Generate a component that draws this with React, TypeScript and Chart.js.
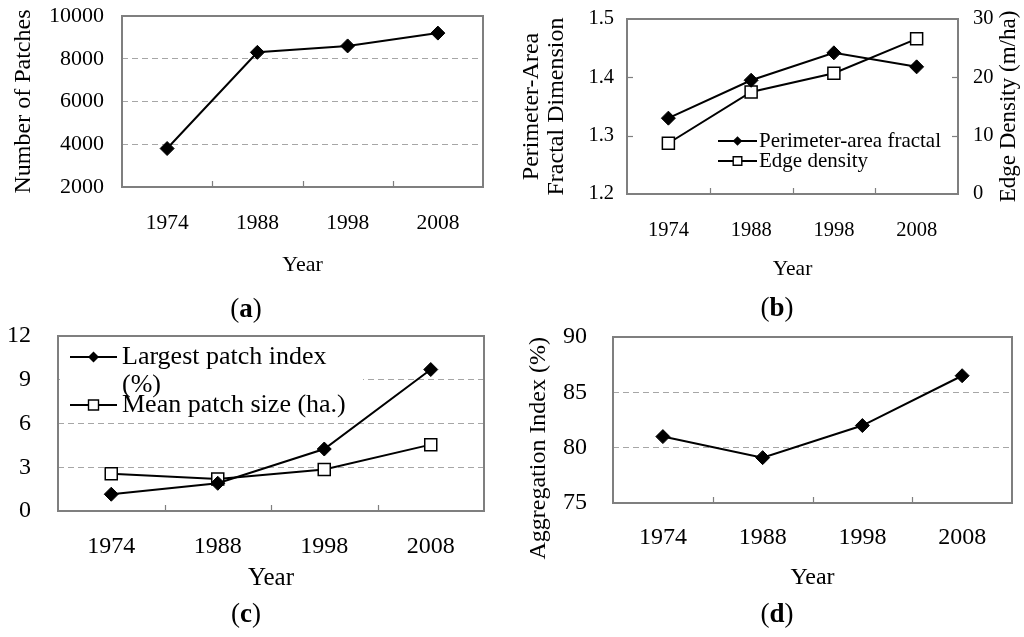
import React, { useEffect, useRef } from 'react';
import { Chart, registerables } from 'chart.js';

Chart.register(...registerables);

const FONT = '"Liberation Serif", "Times New Roman", Times, serif';

// ---------- data ----------
const years = ['1974', '1988', '1998', '2008'];

const numberOfPatches = [3800, 8300, 8600, 9200];
const patchTicks = [2000, 4000, 6000, 8000, 10000];

const fractalDimension = [1.33, 1.395, 1.442, 1.418];
const fractalTicks = [1.2, 1.3, 1.4, 1.5];
const edgeDensity = [8.7, 17.5, 20.7, 26.6];
const edgeTicks = [0, 10, 20, 30];

const largestPatchIndex = [1.15, 1.9, 4.25, 9.7];
const meanPatchSize = [2.55, 2.2, 2.85, 4.55];
const patchIndexTicks = [0, 3, 6, 9, 12];

const aggregationIndex = [81.0, 79.1, 82.0, 86.5];
const aggregationTicks = [75, 80, 85, 90];

const legendB = [['Perimeter-area fractal'], ['Edge density']];
const legendC = [['Largest patch index', '(%)'], ['Mean patch size (ha.)']];

// ---------- helpers ----------
function drawMarker(ctx: CanvasRenderingContext2D, style: string, x: number, y: number, r: number) {
  ctx.beginPath();
  if (style === 'rectRot') {
    ctx.moveTo(x, y - r);
    ctx.lineTo(x + r, y);
    ctx.lineTo(x, y + r);
    ctx.lineTo(x - r, y);
    ctx.closePath();
    ctx.fillStyle = '#000';
    ctx.fill();
  } else {
    ctx.rect(x - r, y - r, 2 * r, 2 * r);
    ctx.fillStyle = '#fff';
    ctx.fill();
    ctx.lineWidth = 1.4;
    ctx.strokeStyle = '#000';
    ctx.stroke();
  }
}

const panelDecor = {
  id: 'panelDecor',
  beforeDatasetsDraw(chart: any, _args: any, opts: any) {
    const { ctx, chartArea: a } = chart;
    ctx.save();
    const lg = opts.legend;
    if (lg && lg.bg) {
      ctx.fillStyle = '#fff';
      ctx.fillRect(lg.bg[0], lg.bg[1], lg.bg[2], lg.bg[3]);
    }
    ctx.strokeStyle = '#7f7f7f';
    ctx.lineWidth = 2;
    ctx.strokeRect(a.left, a.top, a.right - a.left, a.bottom - a.top);
    ctx.lineWidth = 1.2;
    const xs = chart.scales.x;
    const n = xs.ticks.length;
    for (let i = 0; i < n - 1; i++) {
      const px = Math.round((xs.getPixelForTick(i) + xs.getPixelForTick(i + 1)) / 2) + 0.5;
      ctx.beginPath();
      ctx.moveTo(px, a.bottom);
      ctx.lineTo(px, a.bottom - 6);
      ctx.stroke();
    }
    if (opts.yTicks) {
      Object.values(chart.scales).forEach((s: any) => {
        if (s.axis !== 'y') return;
        s.ticks.forEach((t: any, i: number) => {
          if (i === 0 || i === s.ticks.length - 1) return;
          const py = Math.round(s.getPixelForValue(t.value)) + 0.5;
          ctx.beginPath();
          if (s.position === 'left') {
            ctx.moveTo(a.left, py);
            ctx.lineTo(a.left + 6, py);
          } else {
            ctx.moveTo(a.right, py);
            ctx.lineTo(a.right - 6, py);
          }
          ctx.stroke();
        });
      });
    }
    // right-hand axis title, read bottom-to-top like the left one
    const rt = opts.rightTitle;
    if (rt) {
      const s = chart.scales[rt.scale];
      ctx.save();
      ctx.translate(rt.x, (s.top + s.bottom) / 2);
      ctx.rotate(-Math.PI / 2);
      ctx.font = `${rt.size}px ${FONT}`;
      ctx.fillStyle = '#000';
      ctx.textAlign = 'center';
      ctx.textBaseline = 'middle';
      ctx.fillText(rt.text, 0, 0);
      ctx.restore();
    }
    if (lg) {
      ctx.font = `${lg.size}px ${FONT}`;
      ctx.textBaseline = 'middle';
      ctx.textAlign = 'left';
      lg.labels.forEach((lines: string[], i: number) => {
        const ds = chart.data.datasets[i];
        const y = lg.lineYs[i];
        ctx.strokeStyle = '#000';
        ctx.lineWidth = 2;
        ctx.beginPath();
        ctx.moveTo(lg.x0, y);
        ctx.lineTo(lg.x1, y);
        ctx.stroke();
        drawMarker(ctx, ds.pointStyle, (lg.x0 + lg.x1) / 2, y, ds.pointStyle === 'rectRot' ? lg.r : lg.r - 0.5);
        ctx.fillStyle = '#000';
        lines.forEach((t, j) => ctx.fillText(t, lg.textX, lg.textYs[i][j]));
      });
    }
    ctx.restore();
  },
};

function xScale(fontSize: number, padding: number, titleSize: number, titleBottom: number, height: number) {
  return {
    type: 'category',
    offset: true,
    grid: { display: false, drawTicks: false },
    border: { display: false },
    ticks: {
      color: '#000',
      font: { family: FONT, size: fontSize },
      padding,
      maxRotation: 0,
      autoSkip: false,
    },
    title: {
      display: true,
      text: 'Year',
      color: '#000',
      font: { family: FONT, size: titleSize },
      padding: { top: 0, bottom: titleBottom },
    },
    afterFit: (s: any) => {
      s.height = height;
      s.paddingLeft = 0;
      s.paddingRight = 0;
      s.paddingTop = 0;
      s.paddingBottom = 0;
    },
  };
}

function yScale(o: {
  ticks: number[];
  size: number;
  padding: number;
  width: number;
  position?: string;
  grid?: boolean;
  title?: string | string[];
  titleSize?: number;
  titlePad?: number;
  titleLine?: number;
  align?: string;
  decimals?: number;
}) {
  const min = o.ticks[0];
  const max = o.ticks[o.ticks.length - 1];
  const step = o.ticks[1] - o.ticks[0];
  return {
    type: 'linear',
    position: o.position || 'left',
    min,
    max,
    grid: {
      display: o.grid !== false,
      drawTicks: false,
      lineWidth: 1,
      color: (c: any) =>
        c.tick && (Math.abs(c.tick.value - min) < 1e-9 || Math.abs(c.tick.value - max) < 1e-9)
          ? 'rgba(0,0,0,0)'
          : '#a6a6a6',
    },
    border: { display: false, dash: [6, 4] },
    ticks: {
      stepSize: step,
      color: '#000',
      font: { family: FONT, size: o.size },
      padding: o.padding,
      callback: (v: any) => (o.decimals ? Number(v).toFixed(o.decimals) : String(v)),
    },
    title: o.title
      ? {
          display: true,
          text: o.title,
          color: '#000',
          align: o.align || 'center',
          font: { family: FONT, size: o.titleSize || o.size, lineHeight: o.titleLine || 1.2 },
          padding: { top: o.titlePad || 0, bottom: 0 },
        }
      : { display: false },
    afterFit: (s: any) => {
      s.width = o.width;
      s.paddingLeft = 0;
      s.paddingRight = 0;
      s.paddingTop = 0;
      s.paddingBottom = 0;
    },
  };
}

function lineDs(label: string, data: number[], style: 'rectRot' | 'rect', yAxisID = 'y') {
  return {
    label,
    data,
    yAxisID,
    borderColor: '#000',
    borderWidth: 2,
    tension: 0,
    fill: false,
    pointStyle: style,
    pointRadius: style === 'rectRot' ? 7 : 8.5,
    pointBackgroundColor: style === 'rectRot' ? '#000' : '#fff',
    pointBorderColor: '#000',
    pointBorderWidth: style === 'rectRot' ? 1 : 1.5,
  };
}

function baseOptions(padding: any, scales: any, decor: any) {
  return {
    responsive: false,
    animation: false,
    events: [],
    layout: { padding },
    plugins: {
      legend: { display: false },
      tooltip: { enabled: false },
      title: { display: false },
      panelDecor: decor,
    },
    scales,
  };
}

const W = 512;
const H = 290;

function makeA(): any {
  return {
    type: 'line',
    data: { labels: years, datasets: [lineDs('Number of Patches', numberOfPatches, 'rectRot')] },
    options: baseOptions(
      { top: 16, right: 29, left: 0, bottom: 0 },
      {
        x: xScale(21.5, 23, 22, 11.8, H - 187),
        y: yScale({ ticks: patchTicks, size: 22, padding: 18, width: 122, title: 'Number of Patches', titleSize: 24, titlePad: 9.6 }),
      },
      {}
    ),
    plugins: [panelDecor],
  };
}

function makeB(): any {
  return {
    type: 'line',
    data: {
      labels: years,
      datasets: [
        lineDs(legendB[0].join(' '), fractalDimension, 'rectRot', 'y'),
        lineDs(legendB[1].join(' '), edgeDensity, 'rect', 'y1'),
      ],
    },
    options: baseOptions(
      { top: 19, right: 0, left: 0, bottom: 0 },
      {
        x: xScale(20.5, 24, 21.5, 7.4, H - 194),
        y: yScale({
          ticks: fractalTicks,
          size: 20.5,
          padding: 13,
          width: 115,
          grid: false,
          decimals: 1,
          title: ['Perimeter-Area', 'Fractal Dimension'],
          titleSize: 24,
          titleLine: 1.05,
          titlePad: 7.4,
        }),
        y1: yScale({
          ticks: edgeTicks,
          size: 20.5,
          padding: 15,
          width: 66,
          position: 'right',
          grid: false,
        }),
      },
      {
        yTicks: true,
        rightTitle: { scale: 'y1', text: 'Edge Density (m/ha)', x: 497, size: 23 },
        legend: {
          labels: legendB,
          size: 21,
          x0: 206,
          x1: 245,
          r: 4.8,
          textX: 247,
          lineYs: [141, 161],
          textYs: [[141], [161]],
        },
      }
    ),
    plugins: [panelDecor],
  };
}

function makeC(): any {
  return {
    type: 'line',
    data: {
      labels: years,
      datasets: [
        lineDs(legendC[0].join(' '), largestPatchIndex, 'rectRot'),
        lineDs(legendC[1].join(' '), meanPatchSize, 'rect'),
      ],
    },
    options: baseOptions(
      { top: 16, right: 28, left: 0, bottom: 0 },
      {
        x: xScale(24, 21.6, 25, 17, H - 191),
        y: yScale({ ticks: patchIndexTicks, size: 24, padding: 27, width: 58 }),
      },
      {
        legend: {
          labels: legendC,
          size: 26,
          bg: [60, 18, 303, 80],
          x0: 70,
          x1: 117,
          r: 5.5,
          textX: 122,
          lineYs: [37, 85],
          textYs: [[37, 65], [85]],
        },
      }
    ),
    plugins: [panelDecor],
  };
}

function makeD(): any {
  return {
    type: 'line',
    data: { labels: years, datasets: [lineDs('Aggregation Index (%)', aggregationIndex, 'rectRot')] },
    options: baseOptions(
      { top: 17, right: 12, left: 0, bottom: 0 },
      {
        x: xScale(24, 20.6, 24, 17.6, H - 183),
        y: yScale({
          ticks: aggregationTicks,
          size: 24,
          padding: 26,
          width: 101,
          title: 'Aggregation Index (%)',
          titleSize: 24,
          titlePad: 12.6,
          align: 'end',
        }),
      },
      {}
    ),
    plugins: [panelDecor],
  };
}

function Panel({ left, top, make }: { left: number; top: number; make: () => any }) {
  const ref = useRef<HTMLCanvasElement>(null);
  useEffect(() => {
    const chart = new Chart(ref.current as HTMLCanvasElement, make());
    return () => chart.destroy();
  }, []);
  return (
    <div style={{ position: 'absolute', left, top, width: W, height: H }}>
      <canvas ref={ref} width={W} height={H} style={{ width: W, height: H, display: 'block' }} />
    </div>
  );
}

function Caption({ x, y, letter }: { x: number; y: number; letter: string }) {
  return (
    <div
      style={{
        position: 'absolute',
        left: x,
        top: y,
        transform: 'translate(-50%, -50%)',
        fontFamily: FONT,
        fontSize: 27,
        lineHeight: 1,
        color: '#000',
        whiteSpace: 'nowrap',
      }}
    >
      (<b>{letter}</b>)
    </div>
  );
}

export default function App() {
  return (
    <div style={{ position: 'absolute', left: 0, top: 0, width: 1024, height: 637, background: '#fff', overflow: 'hidden' }}>
      <Panel left={0} top={0} make={makeA} />
      <Panel left={512} top={0} make={makeB} />
      <Panel left={0} top={320} make={makeC} />
      <Panel left={512} top={320} make={makeD} />
      <Caption x={246} y={308} letter="a" />
      <Caption x={777} y={307} letter="b" />
      <Caption x={246} y={613} letter="c" />
      <Caption x={777} y={613} letter="d" />
    </div>
  );
}
